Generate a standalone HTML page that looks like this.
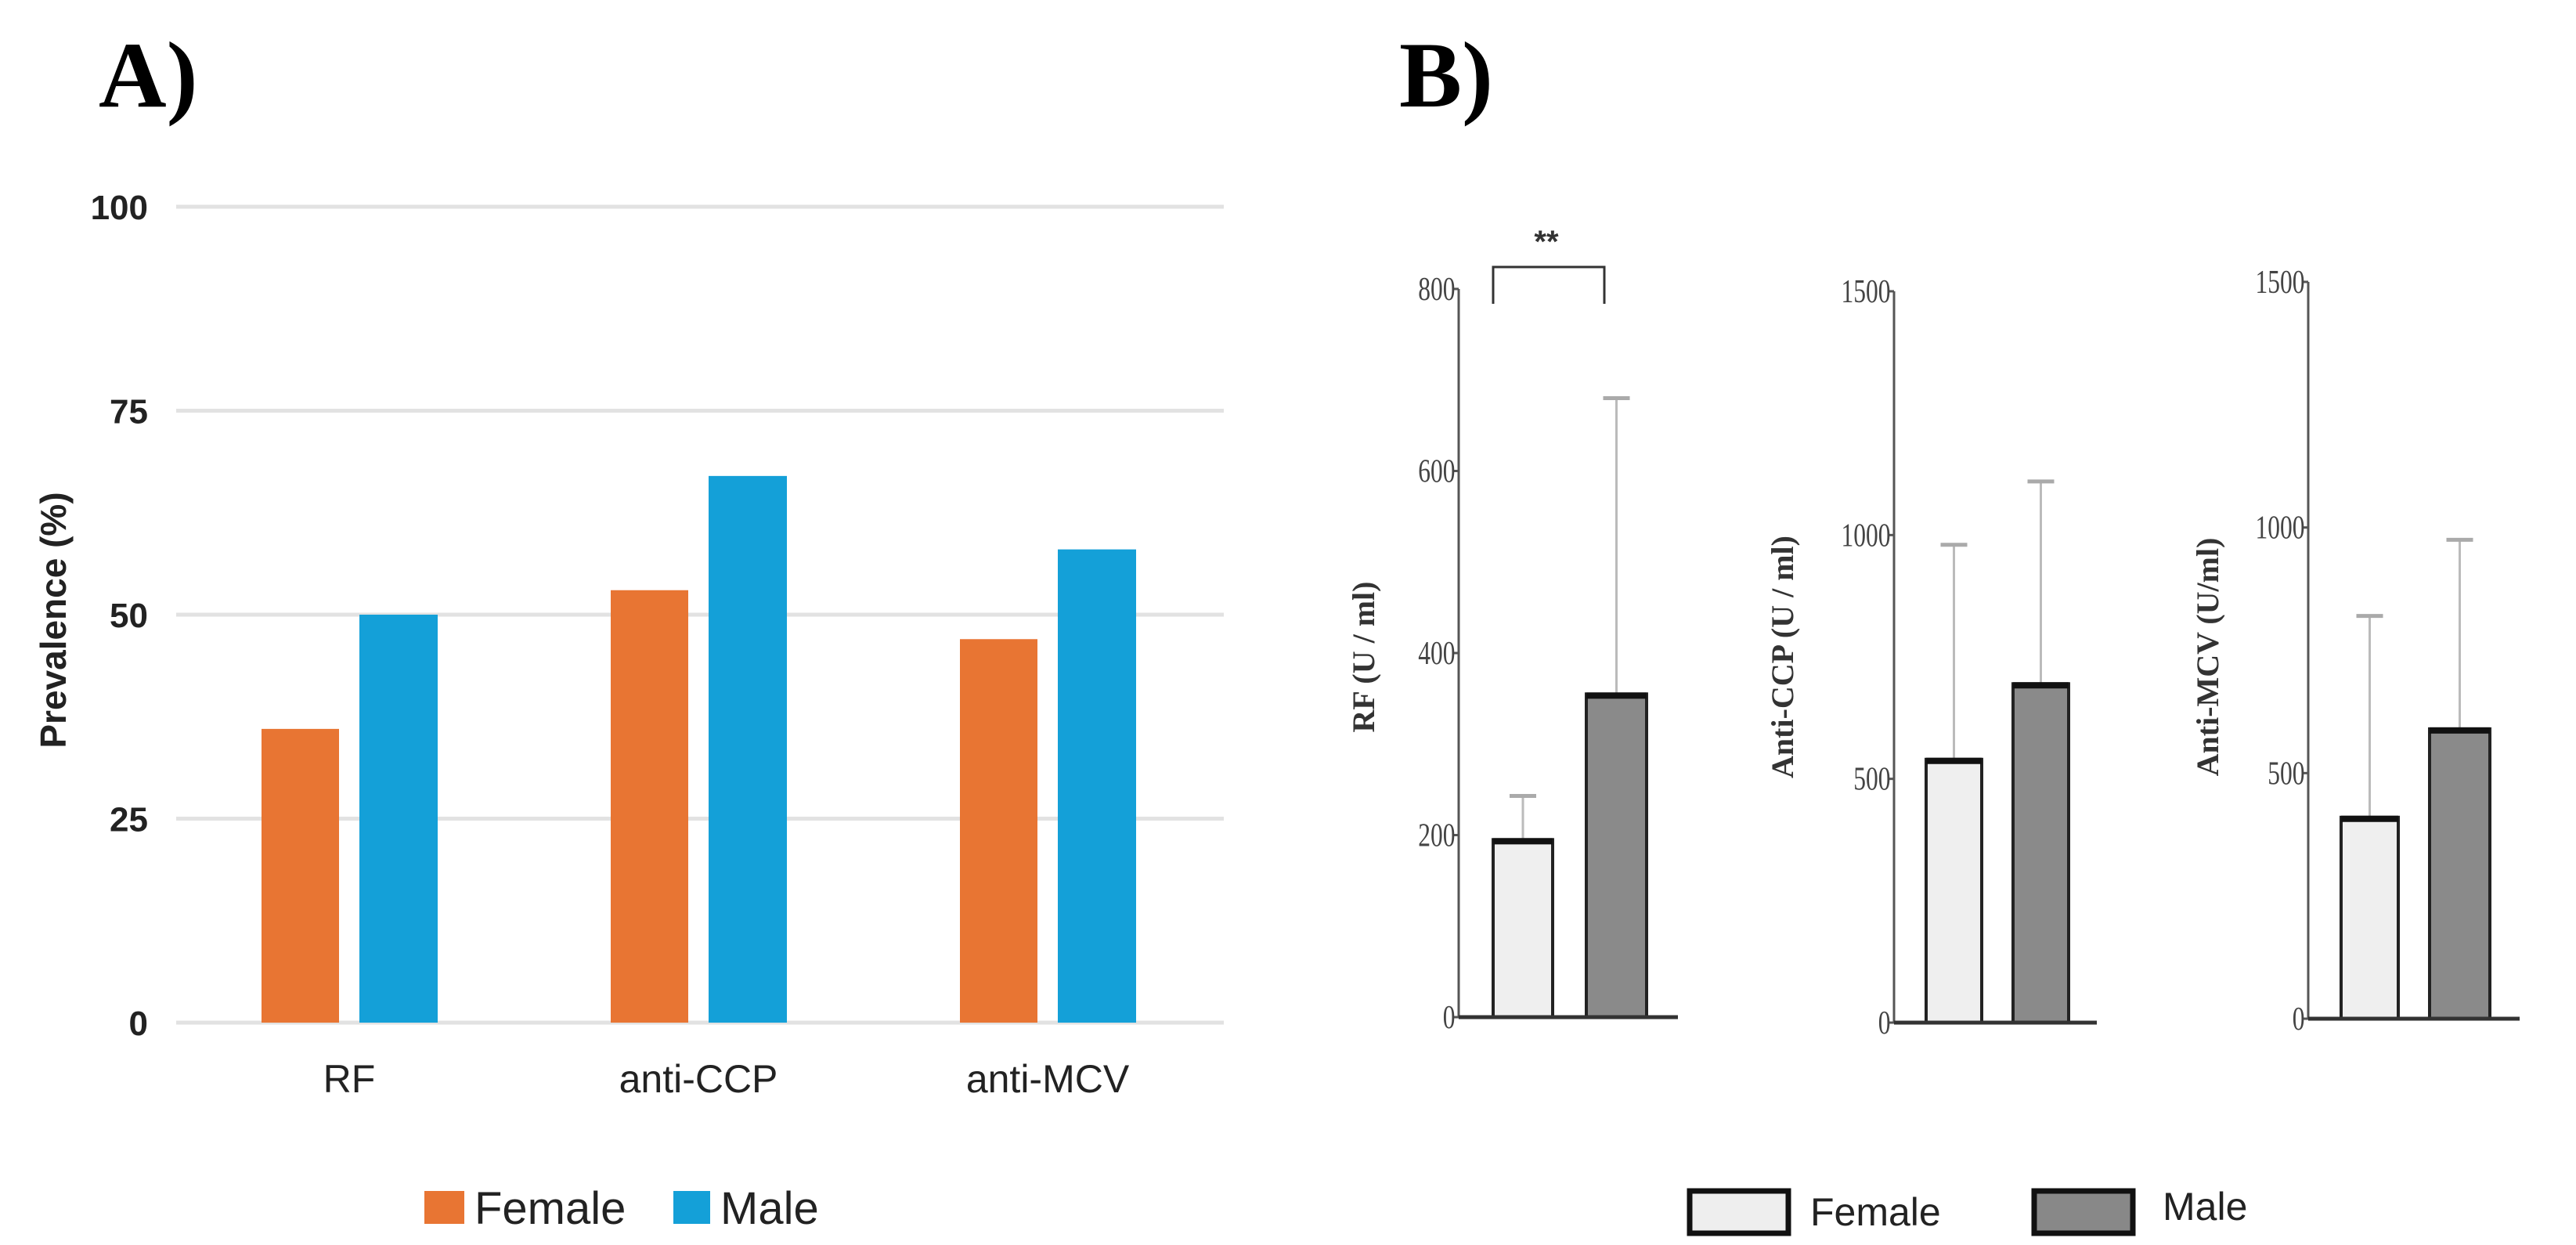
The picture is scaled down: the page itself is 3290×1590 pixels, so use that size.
<!DOCTYPE html>
<html><head><meta charset="utf-8"><style>
body{margin:0;background:#fff;width:3290px;height:1590px;overflow:hidden}
svg{display:block}
</style></head><body>
<svg id="s" width="3290" height="1590" xmlns="http://www.w3.org/2000/svg">
<text x="126" y="136" font-family="Liberation Serif, serif" font-weight="bold" font-size="120">A)</text>
<text x="1787" y="136" font-family="Liberation Serif, serif" font-weight="bold" font-size="120">B)</text>
<g id="ga"></g>
<g id="gb"></g>
</svg>
<script>
const aCategories=["RF","anti-CCP","anti-MCV"];
const aFemale=[36,53,47];
const aMale=[50,67,58];
const aTicks=[0,25,50,75,100];
const bTitles=["RF (U / ml)","Anti-CCP (U / ml)","Anti-MCV (U/ml)"];
const bFemale=[195,540,410];
const bFemaleErr=[243,980,820];
const bMale=[355,695,590];
const bMaleErr=[680,1110,975];
const bMax=[800,1500,1500];
const bTicks=[[0,200,400,600,800],[0,500,1000,1500],[0,500,1000,1500]];

const NS="http://www.w3.org/2000/svg";
function mk(p,t,a,txt){const e=document.createElementNS(NS,t);for(const k in a)e.setAttribute(k,a[k]);if(txt!=null)e.textContent=txt;p.appendChild(e);return e;}
const ga=document.getElementById('ga');
const ay=v=>1306-(1306-264)*v/100;
aTicks.forEach(t=>{
 const l=mk(ga,'line',{x1:225,x2:1563,y1:ay(t),y2:ay(t),stroke:'#e2e2e2','stroke-width':5});
 
 const tx=mk(ga,'text',{x:189,y:ay(t)+16,'text-anchor':'end','font-family':'Liberation Sans, sans-serif','font-weight':'bold','font-size':44,fill:'#222'},t);
 
});
const yt=mk(ga,'text',{transform:'translate(84,792) rotate(-90)','text-anchor':'middle','font-family':'Liberation Sans, sans-serif','font-weight':'bold','font-size':46,fill:'#222'},'Prevalence  (%)');

aCategories.forEach((c,i)=>{
 const cx=446+446*i;
 const f=mk(ga,'rect',{x:cx-112,y:ay(aFemale[i]),width:99,height:ay(0)-ay(aFemale[i]),fill:'#e87533'});
 
 const m=mk(ga,'rect',{x:cx+13,y:ay(aMale[i]),width:100,height:ay(0)-ay(aMale[i]),fill:'#14a0d8'});
 
 const t=mk(ga,'text',{x:cx,y:1395,'text-anchor':'middle','font-family':'Liberation Sans, sans-serif','font-size':50,fill:'#222'},c);
 
});
const lg=mk(ga,'g',{});
const l1=mk(lg,'rect',{x:542,y:1521,width:51,height:42,fill:'#e87533'});
const l2=mk(lg,'text',{x:606,y:1563,'font-family':'Liberation Sans, sans-serif','font-size':58,fill:'#222'},'Female');
const l3=mk(lg,'rect',{x:860,y:1521,width:47,height:42,fill:'#14a0d8'});
const l4=mk(lg,'text',{x:920,y:1563,'font-family':'Liberation Sans, sans-serif','font-size':58,fill:'#222'},'Male');

const gb=document.getElementById('gb');
const geo=[{ax:1863,y0:1299,yt:369,xe:2143,f:[1907,1983],m:[2026,2103],tx:1755},
{ax:2419,y0:1306,yt:372,xe:2678,f:[2460,2531],m:[2571,2642],tx:2290},
{ax:2948,y0:1301,yt:360,xe:3218,f:[2990,3063],m:[3103,3180],tx:2833}];
bTitles.forEach((title,i)=>{
 const g=geo[i];const sc=v=>g.y0-(g.y0-g.yt)*v/bMax[i];
 const grp=mk(gb,'g',{});
 const ax=mk(grp,'line',{x1:g.ax,x2:g.ax,y1:g.yt,y2:g.y0,stroke:'#555','stroke-width':3});
 bTicks[i].forEach(t=>{
  const tk=mk(grp,'line',{x1:g.ax-8,x2:g.ax,y1:sc(t),y2:sc(t),stroke:'#555','stroke-width':3});
  const tl=mk(grp,'text',{x:g.ax-6,y:sc(t)+14,'text-anchor':'end','font-family':'Liberation Serif, serif','font-size':42,fill:'#444',transform:`translate(${g.ax} 0) scale(0.75 1) translate(${-g.ax} 0)`},t);
  
 });
 const yT=mk(grp,'text',{transform:`translate(${g.tx},${839}) rotate(-90)`,'text-anchor':'middle','font-family':'Liberation Serif, serif','font-weight':'bold','font-size':40,fill:'#333'},title);
 
 [[g.f,bFemale[i],bFemaleErr[i],'#efefef','female'],[g.m,bMale[i],bMaleErr[i],'#8a8a8a','male']].forEach(([xs,v,e,col,nm])=>{
  const cx=(xs[0]+xs[1])/2;
  const el=mk(grp,'line',{x1:cx,x2:cx,y1:sc(e),y2:sc(v),stroke:'#bbb','stroke-width':3});
  const ec=mk(grp,'line',{x1:cx-17,x2:cx+17,y1:sc(e),y2:sc(e),stroke:'#aaa','stroke-width':5});
  const r=mk(grp,'rect',{x:xs[0],y:sc(v),width:xs[1]-xs[0],height:g.y0-sc(v),fill:col,stroke:'#222','stroke-width':4});
  const tp=mk(grp,'line',{x1:xs[0],x2:xs[1],y1:sc(v)+2,y2:sc(v)+2,stroke:'#111','stroke-width':8});
 });
 const bl=mk(grp,'line',{x1:g.ax,x2:g.xe,y1:g.y0,y2:g.y0,stroke:'#333','stroke-width':5});
});
const br=mk(gb,'path',{d:'M1907 388 V341 H2049 V388',fill:'none',stroke:'#333','stroke-width':3});
const st=mk(gb,'text',{x:1975,y:322,'text-anchor':'middle','font-family':'Liberation Sans, sans-serif','font-weight':'bold','font-size':40,fill:'#333'},'**');
const lb=mk(gb,'g',{});
const b1=mk(lb,'rect',{x:2158,y:1521,width:126,height:54,fill:'#eee',stroke:'#111','stroke-width':7});
const b2=mk(lb,'text',{x:2312,y:1565,'font-family':'Liberation Sans, sans-serif','font-size':50,fill:'#222'},'Female');
const b3=mk(lb,'rect',{x:2598,y:1521,width:126,height:54,fill:'#888',stroke:'#111','stroke-width':7});
const b4=mk(lb,'text',{x:2762,y:1558,'font-family':'Liberation Sans, sans-serif','font-size':50,fill:'#222'},'Male');
</script>
</body></html>
